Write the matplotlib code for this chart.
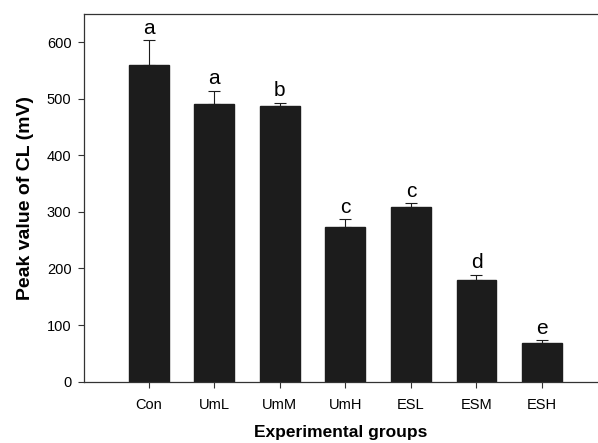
import matplotlib
matplotlib.use('Agg')
import matplotlib.pyplot as plt
import numpy as np

plt.rcParams['font.family'] = 'sans-serif'
plt.rcParams['font.sans-serif'] = 'Liberation Sans'

groups = ['Con', 'UmL', 'UmM', 'UmH', 'ESL', 'ESM', 'ESH']
peak_cl = [560, 491, 487, 273, 309, 179, 69]
peak_err = [44, 23, 6, 14, 7, 10, 4]
letters = ['a', 'a', 'b', 'c', 'c', 'd', 'e']

fig = plt.figure(figsize=(5.98, 4.43), dpi=100)
ax = fig.add_axes([0.1405, 0.1384, 0.859, 0.8306])

x = np.arange(len(groups))
ax.bar(x, peak_cl, width=0.61, color='#1c1c1c', edgecolor='#1c1c1c', zorder=2)
ax.errorbar(x, peak_cl, yerr=[np.zeros(len(groups)), peak_err], fmt='none',
            ecolor='#1c1c1c', elinewidth=0.8, capsize=4, capthick=0.8, zorder=1)

# significance letters above the error bars
for xi, v, e, lab in zip(x, peak_cl, peak_err, letters):
    ax.text(xi, v + e + 11, lab, ha='center', va='baseline', fontsize=15)

ax.set_xlim(-0.99, 6.85)
ax.set_ylim(0, 650)
ax.set_yticks(np.arange(0, 601, 100))
ax.set_xticks(x, groups)

ax.spines['right'].set_visible(False)
for spine in ['top', 'left', 'bottom']:
    ax.spines[spine].set_linewidth(0.9)
    ax.spines[spine].set_color('#333333')

ax.tick_params(axis='both', direction='out', length=4, width=0.8, labelsize=10.5, color='#333333')
ax.tick_params(axis='x', pad=8)
ax.tick_params(axis='y', pad=5)

ax.set_xlabel('Experimental groups', fontsize=12.5, fontweight='bold', labelpad=9)
ax.set_ylabel('Peak value of CL (mV)', fontsize=14, fontweight='bold', labelpad=9)

fig.savefig('out.png', dpi=100)
plt.close()
